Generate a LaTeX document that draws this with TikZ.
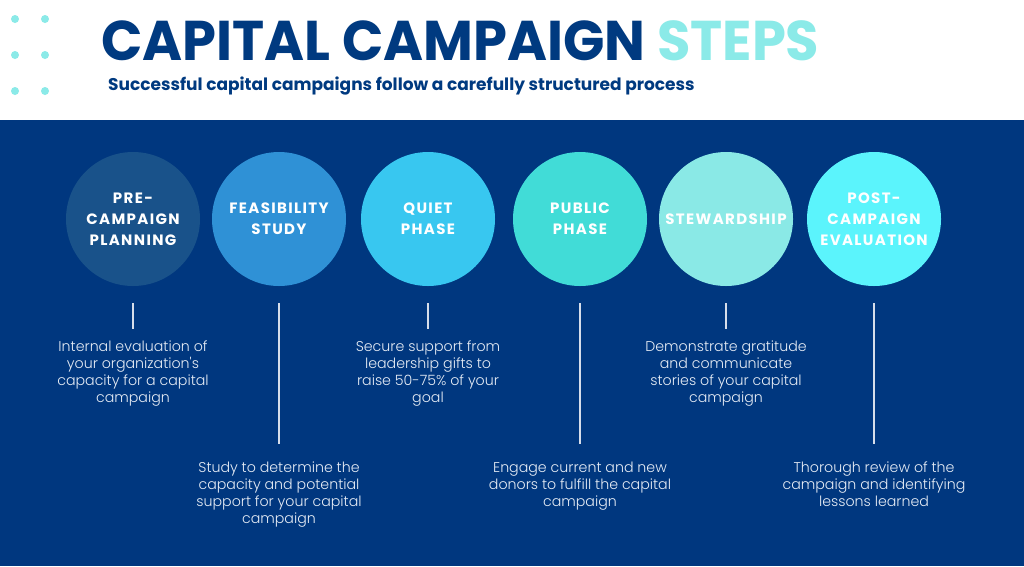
\documentclass[tikz,border=0pt]{standalone}
\usepackage{fontspec}
\usepackage{graphicx}
\setmainfont{Poppins}
\newfontfamily\bodyfont{Poppins Light}
\definecolor{bgblue}{HTML}{00377F}
\definecolor{navy}{HTML}{003A80}
\definecolor{aqua}{HTML}{8BEAE8}
\definecolor{cA}{HTML}{19528A}
\definecolor{cB}{HTML}{2F91D6}
\definecolor{cC}{HTML}{38C7F0}
\definecolor{cD}{HTML}{41DCD7}
\definecolor{cE}{HTML}{8AE9E6}
\definecolor{cF}{HTML}{5BF4FC}
\definecolor{bodytext}{HTML}{E6ECF5}
\definecolor{stemcol}{HTML}{D6DDEA}
\tikzset{
  stepcircle/.style={circle, minimum size=134pt, inner sep=0pt, text=white, align=center,
    font=\fontsize{15}{21}\selectfont\bfseries\addfontfeatures{LetterSpace=9}},
  desc/.style={inner sep=0pt, anchor=north, align=center, text=bodytext,
    font=\bodyfont\fontsize{14.2}{17}\selectfont},
  stem/.style={draw=stemcol, line width=1.8pt},
  dot/.style={fill=aqua}
}
\begin{document}
\begin{tikzpicture}[x=1pt,y=-1pt]
\useasboundingbox (0,0) rectangle (1024,566);
\fill[white] (0,0) rectangle (1024,120);
\fill[bgblue] (0,120) rectangle (1024,566);
\foreach \x in {15,45}{\foreach \y in {19,55,91}{\fill[dot] (\x,\y) circle (4);}}
\node[anchor=base west, inner sep=0pt, text=navy, font=\fontsize{56}{56}\selectfont\bfseries] (title) at (101,60)
  {\scalebox{0.97}[1]{CAPITAL CAMPAIGN \textcolor{aqua}{STEPS}}};
\node[anchor=base west, inner sep=0pt, text=navy, font=\fontsize{17}{17}\selectfont\bfseries] (subtitle) at (108,90)
  {Successful capital campaigns follow a carefully structured process};
% circles
\node[stepcircle, fill=cA] (s1) at (133,219) {PRE-\\CAMPAIGN\\PLANNING};
\node[stepcircle, fill=cB] (s2) at (279,219) {FEASIBILITY\\STUDY};
\node[stepcircle, fill=cC] (s3) at (428,219) {QUIET\\PHASE};
\node[stepcircle, fill=cD] (s4) at (580,219) {PUBLIC\\PHASE};
\node[stepcircle, fill=cE] (s5) at (726,219) {STEWARDSHIP};
\node[stepcircle, fill=cF] (s6) at (874,219) {POST-\\CAMPAIGN\\EVALUATION};
% descriptions
\node[desc] (d1) at (133,341) {Internal evaluation of\\your organization's\\capacity for a capital\\campaign};
\node[desc] (d2) at (279,462) {Study to determine the\\capacity and potential\\support for your capital\\campaign};
\node[desc] (d3) at (428,341) {Secure support from\\leadership gifts to\\raise 50-75\% of your\\goal};
\node[desc] (d4) at (580,462) {Engage current and new\\donors to fulfill the capital\\campaign};
\node[desc] (d5) at (726,341) {Demonstrate gratitude\\and communicate\\stories of your capital\\campaign};
\node[desc] (d6) at (874,462) {Thorough review of the\\campaign and identifying\\lessons learned};
% stems
\foreach \i in {1,3,5}{\draw[stem, shorten <=17pt, shorten >=12pt] (s\i.south) -- (d\i.north);}
\foreach \i in {2,4,6}{\draw[stem, shorten <=17pt, shorten >=18pt] (s\i.south) -- (d\i.north);}
\end{tikzpicture}
\end{document}
